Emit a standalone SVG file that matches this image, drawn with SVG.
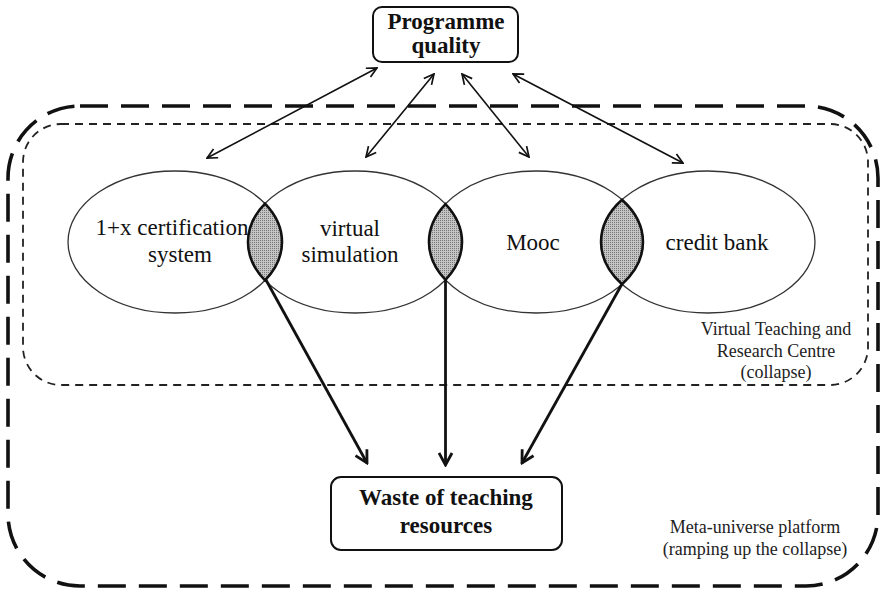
<svg xmlns="http://www.w3.org/2000/svg" width="882" height="589" viewBox="0 0 882 589">
<style>
.t{font-family:"Liberation Serif","Times New Roman",serif;fill:#111;text-anchor:middle}
.b{font-weight:bold;font-size:23px}
.e{font-size:23px}
.l{font-size:18px;fill:#222}
.ell{fill:none;stroke:#333;stroke-width:1.3}
.lens{fill:url(#dots);stroke:#111;stroke-width:2.6}
.box{fill:#fff;stroke:#111;stroke-width:2}
.thin{stroke:#111;stroke-width:1.6;fill:none;marker-start:url(#ah);marker-end:url(#ah)}
.thick{stroke:#111;stroke-width:2.8;fill:none;marker-end:url(#ahb)}
</style>
<defs>
<pattern id="dots" width="2" height="2" patternUnits="userSpaceOnUse">
<rect width="2" height="2" fill="#c4c4c4"/>
<rect width="1" height="1" fill="#777"/>
</pattern>
<marker id="ah" viewBox="0 0 12 12" refX="11" refY="6" markerWidth="12" markerHeight="12" markerUnits="userSpaceOnUse" orient="auto-start-reverse">
<path d="M1,1 L11,6 L1,11" fill="none" stroke="#111" stroke-width="1.7"/>
</marker>
<marker id="ahb" viewBox="0 0 16 16" refX="14" refY="8" markerWidth="16" markerHeight="16" markerUnits="userSpaceOnUse" orient="auto">
<path d="M2,1.5 L14,8 L2,14.5" fill="none" stroke="#111" stroke-width="2.8"/>
</marker>
</defs>
<rect width="882" height="589" fill="#fff"/>

<g id="meta-universe-platform">
<rect x="8" y="106" width="870" height="480" rx="72" ry="72" fill="none" stroke="#111" stroke-width="3.6" stroke-dasharray="28 13"/>
<text class="t l" x="755" y="533">Meta-universe platform</text>
<text class="t l" x="755" y="555">(ramping up the collapse)</text>
</g>

<g id="virtual-teaching-centre">
<rect x="23" y="124" width="845" height="261" rx="38" ry="38" fill="none" stroke="#222" stroke-width="1.8" stroke-dasharray="8 6"/>
<text class="t l" x="776" y="335">Virtual Teaching and</text>
<text class="t l" x="776" y="357">Research Centre</text>
<text class="t l" x="776" y="378">(collapse)</text>
</g>

<g id="certification">
<ellipse class="ell" cx="175" cy="242" rx="107" ry="71"/>
<text class="t e" x="172" y="235">1+x certification</text>
<text class="t e" x="180" y="262">system</text>
</g>
<g id="virtual-simulation">
<ellipse class="ell" cx="355" cy="242" rx="107" ry="71"/>
<text class="t e" x="350" y="236">virtual</text>
<text class="t e" x="350" y="262">simulation</text>
</g>
<g id="mooc">
<ellipse class="ell" cx="536" cy="242" rx="107" ry="71"/>
<text class="t e" x="533" y="250">Mooc</text>
</g>
<g id="credit-bank">
<ellipse class="ell" cx="708" cy="242" rx="107" ry="71"/>
<text class="t e" x="717" y="250">credit bank</text>
</g>

<g id="overlaps">
<path class="lens" d="M265,203.6 A107,71 0 0 0 265,280.4 A107,71 0 0 0 265,203.6 Z"/>
<path class="lens" d="M445.5,204.1 A107,71 0 0 0 445.5,279.9 A107,71 0 0 0 445.5,204.1 Z"/>
<path class="lens" d="M622,199.8 A107,71 0 0 0 622,284.2 A107,71 0 0 0 622,199.8 Z"/>
</g>

<g id="programme-quality">
<rect class="box" x="373" y="7" width="145" height="55" rx="9" ry="9"/>
<text class="t b" x="446" y="29">Programme</text>
<text class="t b" x="446" y="53">quality</text>
</g>

<g id="waste">
<rect class="box" x="331" y="477" width="231" height="73" rx="10" ry="10"/>
<text class="t b" x="446" y="505">Waste of teaching</text>
<text class="t b" x="446" y="533">resources</text>
</g>

<g id="connectors">
<line class="thin" x1="377" y1="68" x2="207" y2="158"/>
<line class="thin" x1="434" y1="74" x2="366" y2="157"/>
<line class="thin" x1="462" y1="74" x2="529" y2="157"/>
<line class="thin" x1="513" y1="74" x2="683" y2="163"/>
<line class="thick" x1="266" y1="280" x2="367" y2="463"/>
<line class="thick" x1="445.5" y1="280" x2="445.5" y2="465"/>
<line class="thick" x1="622" y1="284" x2="522" y2="463"/>
</g>
</svg>
